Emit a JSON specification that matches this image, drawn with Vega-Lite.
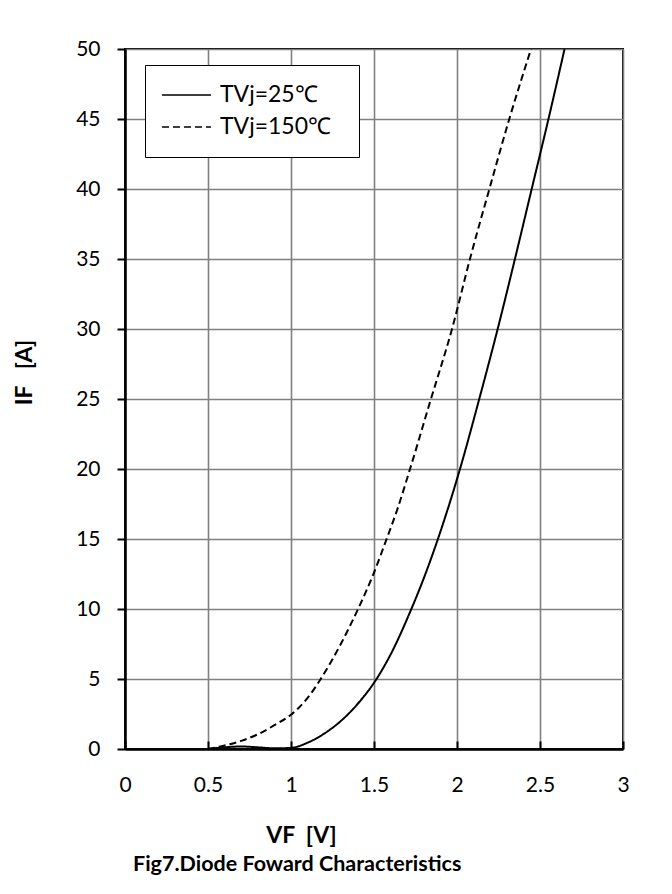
{
  "$schema": "https://vega.github.io/schema/vega-lite/v6.json",
  "width": 498,
  "height": 700,
  "autosize": "none",
  "padding": {"left": 125, "top": 49, "right": 49, "bottom": 145},
  "background": "white",
  "title": {
    "text": "Fig7.Diode Foward Characteristics",
    "orient": "bottom",
    "anchor": "start",
    "frame": "group",
    "dx": 8,
    "offset": 7,
    "font": "Lato",
    "fontSize": 21.5,
    "fontWeight": "bold",
    "color": "black"
  },
  "config": {
    "view": {"stroke": "black", "strokeWidth": 2},
    "axis": {
      "labelFont": "Lato",
      "labelFontSize": 21,
      "labelColor": "black",
      "titleFont": "Lato",
      "titleFontSize": 23,
      "titleFontWeight": "bold",
      "titleColor": "black",
      "domainColor": "black",
      "domainWidth": 2.5,
      "tickColor": "black",
      "tickWidth": 2,
      "gridColor": "#808080",
      "gridWidth": 1.6,
      "gridOpacity": 1
    }
  },
  "data": {
    "values": [
      {"series": "TVj=25℃", "V": 0.5, "I": 0},
      {"series": "TVj=25℃", "V": 0.6, "I": 0.12},
      {"series": "TVj=25℃", "V": 0.7, "I": 0.18},
      {"series": "TVj=25℃", "V": 0.8, "I": 0.12},
      {"series": "TVj=25℃", "V": 0.9, "I": 0.05},
      {"series": "TVj=25℃", "V": 1.0, "I": 0.08},
      {"series": "TVj=25℃", "V": 1.1, "I": 0.45},
      {"series": "TVj=25℃", "V": 1.2, "I": 1.1},
      {"series": "TVj=25℃", "V": 1.3, "I": 2.0},
      {"series": "TVj=25℃", "V": 1.4, "I": 3.2},
      {"series": "TVj=25℃", "V": 1.515, "I": 5},
      {"series": "TVj=25℃", "V": 1.6, "I": 6.75},
      {"series": "TVj=25℃", "V": 1.725, "I": 10},
      {"series": "TVj=25℃", "V": 1.8, "I": 12.2},
      {"series": "TVj=25℃", "V": 1.885, "I": 15},
      {"series": "TVj=25℃", "V": 2.018, "I": 20},
      {"series": "TVj=25℃", "V": 2.134, "I": 25},
      {"series": "TVj=25℃", "V": 2.245, "I": 30},
      {"series": "TVj=25℃", "V": 2.349, "I": 35},
      {"series": "TVj=25℃", "V": 2.45, "I": 40},
      {"series": "TVj=25℃", "V": 2.551, "I": 45},
      {"series": "TVj=25℃", "V": 2.648, "I": 50},
      {"series": "TVj=150℃", "V": 0.5, "I": 0},
      {"series": "TVj=150℃", "V": 0.6, "I": 0.25},
      {"series": "TVj=150℃", "V": 0.7, "I": 0.58},
      {"series": "TVj=150℃", "V": 0.8, "I": 1.05},
      {"series": "TVj=150℃", "V": 0.9, "I": 1.7},
      {"series": "TVj=150℃", "V": 1.0, "I": 2.45},
      {"series": "TVj=150℃", "V": 1.1, "I": 3.65},
      {"series": "TVj=150℃", "V": 1.179, "I": 5},
      {"series": "TVj=150℃", "V": 1.3, "I": 7.5},
      {"series": "TVj=150℃", "V": 1.4, "I": 9.9},
      {"series": "TVj=150℃", "V": 1.5, "I": 12.6},
      {"series": "TVj=150℃", "V": 1.576, "I": 15},
      {"series": "TVj=150℃", "V": 1.64, "I": 17.1},
      {"series": "TVj=150℃", "V": 1.717, "I": 20},
      {"series": "TVj=150℃", "V": 1.843, "I": 25},
      {"series": "TVj=150℃", "V": 1.97, "I": 30},
      {"series": "TVj=150℃", "V": 2.078, "I": 35},
      {"series": "TVj=150℃", "V": 2.195, "I": 40},
      {"series": "TVj=150℃", "V": 2.315, "I": 45},
      {"series": "TVj=150℃", "V": 2.446, "I": 50}
    ]
  },
  "mark": {"type": "line", "interpolate": "monotone", "color": "black", "strokeWidth": 2, "clip": true},
  "encoding": {
    "x": {
      "field": "V",
      "type": "quantitative",
      "scale": {"domain": [0, 3], "nice": false},
      "axis": {
        "values": [0, 0.5, 1, 1.5, 2, 2.5, 3],
        "format": "~g",
        "title": "VF\u00a0\u00a0[V]",
        "tickSize": -8,
        "labelPadding": 33,
        "titleX": 176,
        "titleY": 86,
        "titleBaseline": "middle",
        "titleAlign": "center",
        "labelFlush": false
      }
    },
    "y": {
      "field": "I",
      "type": "quantitative",
      "scale": {"domain": [0, 50], "nice": false},
      "axis": {
        "values": [0, 5, 10, 15, 20, 25, 30, 35, 40, 45, 50],
        "title": "IF\u00a0\u00a0\u00a0[A]",
        "tickSize": 8,
        "labelPadding": 17,
        "titleX": -101,
        "titleY": 323,
        "titleAngle": -90,
        "titleBaseline": "middle",
        "titleAlign": "center",
        "labelFlush": false
      }
    },
    "strokeDash": {
      "field": "series",
      "type": "nominal",
      "scale": {"domain": ["TVj=25℃", "TVj=150℃"], "range": [[1, 0], [7, 4]]},
      "legend": {
        "title": null,
        "orient": "none",
        "legendX": 20,
        "legendY": 16,
        "fillColor": "white",
        "strokeColor": "black",
        "padding": 16,
        "symbolType": "stroke",
        "symbolSize": 2401,
        "symbolStrokeColor": "black",
        "symbolStrokeWidth": 1.5,
        "clipHeight": 28,
        "rowPadding": 4,
        "labelOffset": 8,
        "labelLimit": 400,
        "labelExpr": "datum.label + '\u00a0\u00a0\u200b'",
        "labelFont": "Lato",
        "labelFontSize": 23,
        "labelColor": "black"
      }
    }
  }
}
